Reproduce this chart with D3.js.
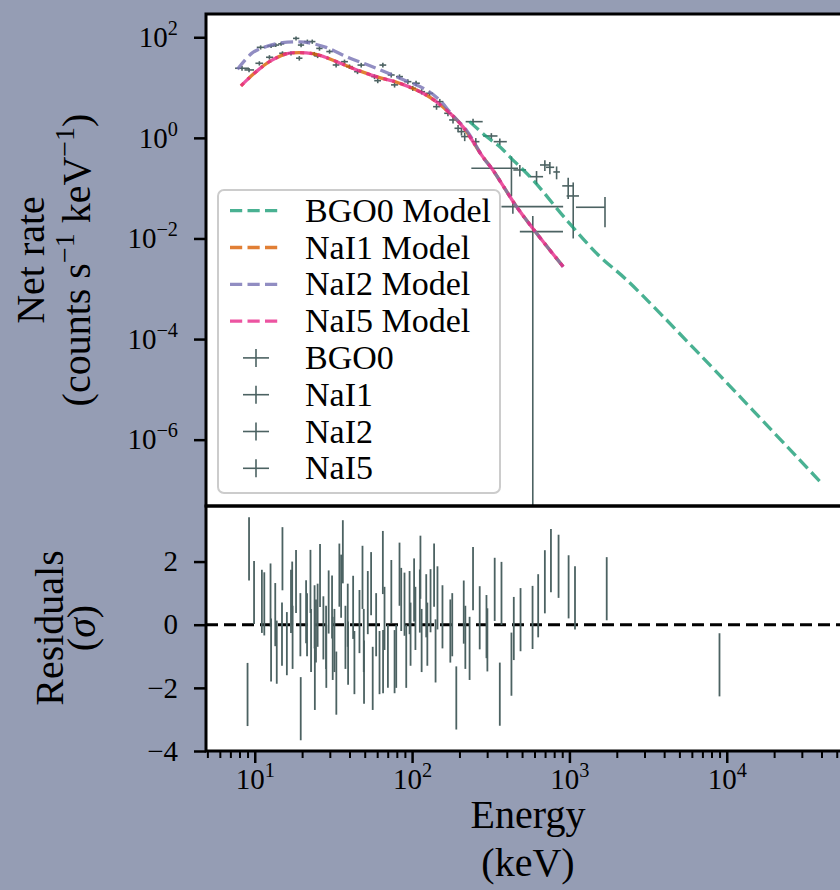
<!DOCTYPE html>
<html>
<head>
<meta charset="utf-8">
<script src="https://cdn.jsdelivr.net/npm/d3@7"></script>
<style>
body { margin: 0; background: #959db4; }
svg text { font-family: "Liberation Serif", "DejaVu Serif", serif; fill: #000; }
</style>
</head>
<body>
<div id="chart"></div>
<script>
// Model curves: [energy keV, net rate counts/s/keV]
const bgo0Model = [[232, 2.10], [297, 1.06], [361, 0.668], [418, 0.42], [586, 0.146], [959, 0.0233],
    [1563, 0.00435], [2310, 0.0015], [6780, 4.83e-5], [39400, 1.44e-7]];
const nai1Model = [[8.17, 10.8], [9.93, 19.2], [12.4, 32.7], [15.8, 46.6], [19.2, 49.4], [24.5, 45.9],
    [31.2, 35.4], [41.8, 24.2], [59.2, 16.5], [83.2, 12.2], [123, 7.1], [165, 3.59], [210, 1.67],
    [281, 0.423], [326, 0.23], [461, 0.043], [618, 0.0127], [913, 0.00275]];
const nai2Model = [[7.77, 23.1], [9.64, 48.8], [11.8, 65], [15.0, 78], [19.2, 80.7], [22.2, 77],
    [28.4, 63], [40, 38.7], [56, 26], [83, 15.5], [123, 9.0], [150, 5.6], [181, 2.8], [221, 1.44],
    [281, 0.42], [326, 0.23], [461, 0.043], [618, 0.0127], [913, 0.00275]];
const nai5Model = [[8.17, 10.8], [9.93, 19.2], [12.4, 32.7], [15.8, 46.6], [19.2, 49.4], [24.5, 45.9],
    [31.2, 35.4], [41.8, 24.2], [59.2, 16.5], [83.2, 12.2], [123, 7.1], [165, 3.59], [210, 1.67],
    [281, 0.423], [326, 0.23], [461, 0.043], [618, 0.0127], [913, 0.00275]];

// Data points: [energy, bin low, bin high, rate, rate error]
const bgo0Data = [[244, 219, 281, 2.10, 0.3], [319, 283, 349, 1.09, 0.15], [361, 330, 400, 0.84, 0.13],
    [428, 238, 472, 0.249, 0.18], [484, 440, 530, 0.23, 0.06], [618, 560, 680, 0.169, 0.05],
    [698, 650, 750, 0.289, 0.07], [751, 710, 800, 0.26, 0.07], [829, 790, 870, 0.21, 0.06],
    [982, 900, 1060, 0.111, 0.05], [1057, 960, 1150, 0.070, 0.06], [1683, 1100, 1683, 0.0417, 0.025],
    [585, 484, 910, 0.0137, 0.0143], [437, 370, 912, 0.043, 0.012]];
const nai1Data = [[9.2, 8.6, 9.9, 22.4, 2.2], [12.4, 11.8, 13.1, 40, 4], [19.2, 18.3, 20.1, 38.3, 4],
    [23.9, 22.8, 25.0, 46.6, 4.5], [32.9, 31.3, 34.5, 28.1, 3], [40, 38, 42, 26.1, 2.7],
    [57.7, 55, 60.5, 16.5, 1.8], [77.4, 73.5, 81.5, 11.3, 1.3], [115, 109, 121, 8.28, 1.0],
    [143, 136, 151, 4.17, 0.55], [196, 186, 207, 1.55, 0.25], [254, 240, 268, 0.84, 0.15]];
const nai2Data = [[8.3, 7.5, 9.2, 24.2, 2.5], [10.9, 10.3, 11.6, 63, 6], [12.7, 12.0, 13.4, 67, 6],
    [13.6, 13.0, 14.3, 70, 6], [14.7, 14.1, 15.4, 74, 6], [18.3, 17.5, 19.2, 95, 9],
    [19.7, 18.8, 20.6, 70, 7], [21.6, 20.6, 22.6, 82, 8], [23.2, 22.2, 24.3, 82, 8],
    [25.8, 24.6, 27.0, 60, 6], [29.9, 28.5, 31.4, 52, 5], [47.5, 45, 50, 28, 3],
    [65.2, 62, 68.5, 28, 3], [73.7, 70, 77.5, 17.8, 2], [83.2, 79, 87.5, 16.5, 1.8],
    [94, 89, 99, 13.1, 1.5], [106, 100, 112, 12.2, 1.4], [150, 142, 158, 5.25, 0.7],
    [182, 172, 192, 2.27, 0.35]];
const nai5Data = [[10.7, 10.1, 11.3, 30.4, 3], [15.0, 14.3, 15.8, 48.1, 4.5], [17.0, 16.2, 17.9, 48.1, 4.5],
    [25.1, 23.9, 26.3, 42.5, 4], [37.2, 35.4, 39.1, 32.7, 3.3], [45, 42.8, 47.3, 20.7, 2.2],
    [60.5, 57.5, 63.5, 13.7, 1.5], [101, 96, 106, 9.68, 1.1], [129, 122, 136, 7.7, 0.9],
    [169, 160, 178, 3.08, 0.4], [206, 195, 217, 1.33, 0.22], [216, 205, 228, 1.06, 0.2]];

// Residuals in sigma: [energy, residual]
const naiResiduals = [[9.0, -2.21], [9.2, 2.40], [9.9, 1.02], [11.1, 0.74], [11.5, 0.66], [12.6, 0.94],
    [12.7, -0.8], [13.5, 0.32], [13.8, -0.87], [14.9, -0.3], [15.0, 2.09], [16.0, -0.6], [17.0, 0.74],
    [17.3, 1.0], [17.4, -0.4], [18.3, 1.37], [19.5, 0.0], [19.6, -2.66], [21.2, 0.41], [21.5, 0.0],
    [22.6, 1.37], [22.8, -0.5], [24.0, 0.25], [24.1, -1.7], [24.5, -0.2], [25.1, 0.3], [26.0, 1.56],
    [27.3, -0.1], [28.4, -0.4], [28.5, -1.0], [29.5, 0.72], [31.0, 0.56], [31.3, -0.75], [32.1, -0.5],
    [33.0, -1.85], [34.5, 1.57], [35.4, 1.22], [36.3, 2.31], [37.7, -0.4], [39.0, 0.3], [39.2, -0.9],
    [42.2, 0.55], [43.0, -1.2], [46.3, 0.1], [48.4, 1.5], [49.3, -0.5], [49.5, -1.5], [52.3, 0.7],
    [54.9, 1.3], [56.2, -1.7], [59.1, 0.0], [62.1, -1.2], [65.2, 1.97], [65.4, -1.17], [66.8, 0.2],
    [70.2, -1.0], [73.8, 1.05], [77.4, -1.17], [79.3, -1.0], [83.2, 1.6], [85.3, 0.8], [89.5, 0.65],
    [91.8, -1.0], [96.4, 0.7], [97.8, -0.3], [103, 1.1], [105, 0.2], [112, 0.75], [113, 1.82],
    [115, -0.5], [123, 0.6], [125, -0.3], [131, 0.76], [138, 1.57], [141, -0.83], [145, 0.85],
    [156, 0.25], [175, -0.2], [180, 0.0], [191, -2.32], [213, 0.4], [218, -0.4]];
const bgoResiduals = [[232, -0.75], [244, 1.46], [269, 0.22], [297, -0.06], [301, -0.48], [335, 1.12],
    [361, -2.2], [370, 0.99], [428, -1.25], [443, -0.12], [489, 0.16], [583, 0.23], [633, 0.6],
    [698, 1.36], [763, 2.03], [853, 1.85], [988, 1.2], [1085, 0.85], [1726, 1.14], [8990, -1.27]];

const legendLabels = ["BGO0 Model", "NaI1 Model", "NaI2 Model", "NaI5 Model", "BGO0", "NaI1", "NaI2", "NaI5"];
const modelColors = ["#1b9e77", "#d95f02", "#7570b3", "#e7298a"];
const topTicks = [1e2, 1, 1e-2, 1e-4, 1e-6];
const resTicks = [2, 0, -2, -4];
const xTicks = [10, 100, 1000, 10000];

const dataColor = "#4c6262";
const tickFont = 29;
const legendFont = 34;
const labelFont = 40;

const svg = d3.select("#chart").append("svg")
    .attr("width", 840)
    .attr("height", 890);

svg.append("rect").attr("width", 840).attr("height", 890).attr("fill", "#959db4");

const x = d3.scaleLog().domain([4.9, 61600]).range([206, 851]);
const yTop = d3.scaleLog().domain([4.8e-8, 290]).range([506, 14]);
const yRes = d3.scaleLinear().domain([-4, 3.76]).range([751, 506]);

// panel backgrounds
svg.append("rect").attr("x", 206).attr("y", 14).attr("width", 645).attr("height", 492).attr("fill", "#fff");
svg.append("rect").attr("x", 206).attr("y", 506).attr("width", 645).attr("height", 245).attr("fill", "#fff");

const defs = svg.append("defs");
defs.append("clipPath").attr("id", "clipTop").append("rect")
    .attr("x", 206).attr("y", 14).attr("width", 645).attr("height", 492);
defs.append("clipPath").attr("id", "clipBot").append("rect")
    .attr("x", 206).attr("y", 506).attr("width", 645).attr("height", 245);

const topPanel = svg.append("g").attr("clip-path", "url(#clipTop)");
const botPanel = svg.append("g").attr("clip-path", "url(#clipBot)");

// data crosses
function drawCrosses(g, data) {
    g.selectAll(null).data(data).join("line")
        .attr("x1", d => x(d[1])).attr("x2", d => x(d[2]))
        .attr("y1", d => yTop(d[3])).attr("y2", d => yTop(d[3]))
        .attr("stroke", dataColor).attr("stroke-width", 1.6);
    g.selectAll(null).data(data).join("line")
        .attr("x1", d => x(d[0])).attr("x2", d => x(d[0]))
        .attr("y1", d => yTop(d[3] + d[4]))
        .attr("y2", d => yTop(Math.max(d[3] - d[4], 1e-9)))
        .attr("stroke", dataColor).attr("stroke-width", 1.6);
}
[bgo0Data, nai1Data, nai2Data, nai5Data].forEach(ds => drawCrosses(topPanel.append("g"), ds));

// model curves
const modelLine = d3.line()
    .x(d => x(d[0]))
    .y(d => yTop(d[1]))
    .curve(d3.curveCatmullRom.alpha(0.5));

[bgo0Model, nai1Model, nai2Model, nai5Model].forEach((m, i) => {
    topPanel.append("path")
        .datum(m)
        .attr("fill", "none")
        .attr("stroke", modelColors[i])
        .attr("stroke-opacity", 0.8)
        .attr("stroke-width", 3.3)
        .attr("stroke-dasharray", "12.2 5.3")
        .attr("stroke-dashoffset", i === 1 ? 8 : 0)
        .attr("d", modelLine);
});

// residuals
botPanel.append("line")
    .attr("x1", 206).attr("x2", 851)
    .attr("y1", yRes(0)).attr("y2", yRes(0))
    .attr("stroke", "#000").attr("stroke-width", 3)
    .attr("stroke-dasharray", "12 6");

[naiResiduals, bgoResiduals].forEach(rs => {
    botPanel.selectAll(null).data(rs).join("line")
        .attr("x1", d => x(d[0])).attr("x2", d => x(d[0]))
        .attr("y1", d => yRes(d[1] + 1)).attr("y2", d => yRes(d[1] - 1))
        .attr("stroke", dataColor).attr("stroke-width", 1.8);
});

// legend
const leg = svg.append("g");
leg.append("rect")
    .attr("x", 218).attr("y", 190).attr("width", 282).attr("height", 303)
    .attr("rx", 6)
    .attr("fill", "#fff").attr("fill-opacity", 0.8)
    .attr("stroke", "#cccccc").attr("stroke-width", 2);

legendLabels.forEach((lab, i) => {
    const cy = 210.7 + i * 36.8;
    if (i < 4) {
        leg.append("line")
            .attr("x1", 230).attr("x2", 278).attr("y1", cy).attr("y2", cy)
            .attr("stroke", modelColors[i]).attr("stroke-opacity", 0.8)
            .attr("stroke-width", 3.3).attr("stroke-dasharray", "12.2 5.3");
    } else {
        leg.append("line")
            .attr("x1", 243).attr("x2", 269).attr("y1", cy).attr("y2", cy)
            .attr("stroke", dataColor).attr("stroke-width", 1.6);
        leg.append("line")
            .attr("x1", 256).attr("x2", 256).attr("y1", cy - 9).attr("y2", cy + 9)
            .attr("stroke", dataColor).attr("stroke-width", 1.6);
    }
    leg.append("text")
        .attr("x", 305).attr("y", cy + 11)
        .style("font-size", legendFont + "px")
        .text(lab);
});

// axes
function powLabel(sel) {
    sel.each(function (d) {
        const t = d3.select(this);
        const e = Math.round(Math.log10(d));
        t.text(null);
        t.append("tspan").text("10");
        t.append("tspan").attr("dy", -12).style("font-size", "0.7em")
            .text(e < 0 ? "\u2212" + Math.abs(e) : e);
    });
}

function styleAxis(g) {
    g.select(".domain").remove();
    g.selectAll(".tick line").attr("stroke", "#000").attr("stroke-width", 2.5);
    g.selectAll(".tick text").style("font-size", tickFont + "px")
        .attr("font-family", null).attr("fill", "#000");
    g.attr("font-family", null).attr("font-size", null);
}

const yTopAxis = svg.append("g").attr("transform", "translate(206,0)")
    .call(d3.axisLeft(yTop).tickValues(topTicks).tickSize(12).tickPadding(16));
styleAxis(yTopAxis);
powLabel(yTopAxis.selectAll(".tick text"));

const yResAxis = svg.append("g").attr("transform", "translate(206,0)")
    .call(d3.axisLeft(yRes).tickValues(resTicks).tickSize(12).tickPadding(16)
        .tickFormat(d => d < 0 ? "\u2212" + Math.abs(d) : String(d)));
styleAxis(yResAxis);

const minorX = x.ticks().filter(v => Math.abs(Math.log10(v) - Math.round(Math.log10(v))) > 1e-6);
const xMinor = svg.append("g").attr("transform", "translate(0,751)")
    .call(d3.axisBottom(x).tickValues(minorX).tickSize(7).tickFormat(""));
styleAxis(xMinor);
xMinor.selectAll(".tick line").attr("stroke-width", 2);

const xAxis = svg.append("g").attr("transform", "translate(0,751)")
    .call(d3.axisBottom(x).tickValues(xTicks).tickSize(12).tickPadding(5));
styleAxis(xAxis);
powLabel(xAxis.selectAll(".tick text"));

// spines
[[14, 492], [506, 245]].forEach(p => {
    svg.append("rect")
        .attr("x", 206).attr("y", p[0]).attr("width", 645).attr("height", p[1])
        .attr("fill", "none").attr("stroke", "#000").attr("stroke-width", 3);
});

// axis labels
svg.append("text").attr("transform", "translate(44,260) rotate(-90)")
    .attr("text-anchor", "middle").style("font-size", labelFont + "px")
    .text("Net rate");
const cnt = svg.append("text").attr("transform", "translate(90,260) rotate(-90)")
    .attr("text-anchor", "middle").style("font-size", labelFont + "px");
cnt.append("tspan").text("(counts s");
cnt.append("tspan").attr("dy", -16).style("font-size", "0.7em").text("\u22121");
cnt.append("tspan").attr("dy", 16).text(" keV");
cnt.append("tspan").attr("dy", -16).style("font-size", "0.7em").text("\u22121");
cnt.append("tspan").attr("dy", 16).text(")");

svg.append("text").attr("transform", "translate(63,628) rotate(-90)")
    .attr("text-anchor", "middle").style("font-size", labelFont + "px")
    .text("Residuals");
const sig = svg.append("text").attr("transform", "translate(95,628) rotate(-90)")
    .attr("text-anchor", "middle").style("font-size", labelFont + "px");
sig.append("tspan").text("(");
sig.append("tspan").style("font-style", "italic").text("\u03c3");
sig.append("tspan").text(")");

svg.append("text").attr("x", 528).attr("y", 828)
    .attr("text-anchor", "middle").style("font-size", labelFont + "px")
    .text("Energy");
svg.append("text").attr("x", 528).attr("y", 876)
    .attr("text-anchor", "middle").style("font-size", labelFont + "px")
    .text("(keV)");
</script>
</body>
</html>
